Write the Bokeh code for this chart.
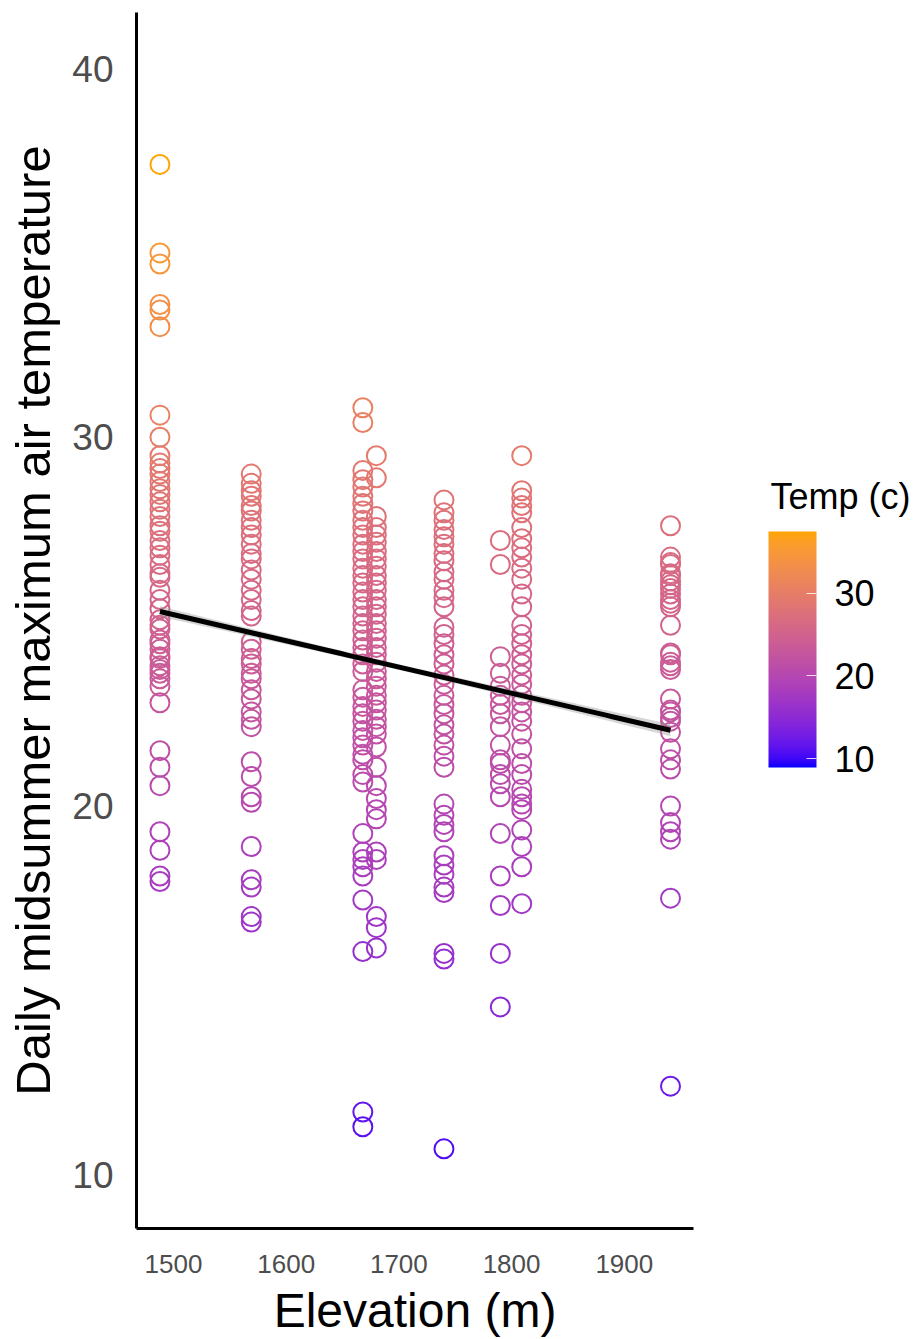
import numpy as np
from bokeh.plotting import figure
from bokeh.models import (ColumnDataSource, LinearColorMapper, ColorBar, FixedTicker, Range1d)
from bokeh.transform import transform
from bokeh.embed import file_html
from bokeh.resources import INLINE

# ---------------- data ----------------
site_elevation = [1488, 1569, 1668, 1680, 1740, 1790, 1809, 1941]

temps_1488 = [37.4, 35.0, 34.7, 33.6, 33.45, 33.0, 30.6, 30.0, 29.5, 29.3, 29.15, 29.0, 28.8, 28.6,
              28.45, 28.25, 28.05, 27.85, 27.6, 27.45, 27.2, 27.0, 26.8, 26.55, 26.3, 26.2, 25.85,
              25.6, 25.35, 25.05, 24.9, 24.8, 24.5, 24.4, 24.25, 24.05, 24.0, 23.8, 23.7, 23.6, 23.45,
              23.25, 22.8, 21.5, 21.05, 20.55, 19.3, 18.8, 18.1, 17.95]
temps_1569 = [29.0, 28.75, 28.55, 28.4, 28.15, 28.0, 27.75, 27.55, 27.35, 27.1, 26.85, 26.7, 26.4,
              26.15, 25.85, 25.6, 25.3, 25.15, 24.45, 24.25, 24.0, 23.85, 23.6, 23.45, 23.15, 22.9,
              22.55, 22.35, 22.15, 21.2, 20.8, 20.25, 20.1, 18.9, 18.0, 17.8, 17.0, 16.85]
temps_1668 = [30.8, 30.4, 29.1, 28.85, 28.65, 28.4, 28.2, 28.0, 27.75, 27.55, 27.35, 27.1, 26.9,
              26.7, 26.45, 26.25, 26.05, 25.8, 25.6, 25.4, 25.15, 24.95, 24.75, 24.5, 24.3, 24.1,
              23.85, 23.65, 23.15, 22.95, 22.7, 22.5, 22.3, 22.05, 21.85, 21.65, 21.4, 21.25, 20.85,
              20.65, 19.25, 18.75, 18.55, 18.35, 18.1, 17.45, 16.05, 11.7, 11.3]
temps_1680 = [29.5, 28.9, 27.85, 27.55, 27.35, 27.15, 26.9, 26.7, 26.5, 26.25, 26.05, 25.85, 25.6,
              25.4, 25.2, 24.95, 24.75, 24.55, 24.3, 24.1, 23.9, 23.65, 23.45, 23.25, 23.0, 22.8,
              22.6, 22.35, 22.15, 21.95, 21.6, 21.05, 20.55, 20.2, 19.9, 19.65, 18.75, 18.55, 17.0,
              16.7, 16.15]
temps_1740 = [28.3, 27.95, 27.75, 27.5, 27.3, 27.1, 26.85, 26.65, 26.35, 26.15, 25.85, 25.65, 25.4,
              24.85, 24.65, 24.4, 24.1, 23.85, 23.55, 23.3, 23.0, 22.75, 22.5, 22.2, 21.95, 21.65,
              21.35, 21.05, 20.05, 19.75, 19.5, 19.3, 18.65, 18.4, 18.15, 17.8, 17.65, 16.0, 15.85,
              10.7]
temps_1790 = [27.2, 26.55, 24.05, 23.6, 23.25, 23.0, 22.75, 22.5, 22.15, 21.65, 21.25, 21.15, 20.85,
              20.6, 20.25, 19.25, 18.1, 17.3, 16.0, 14.55]
temps_1809 = [29.5, 28.55, 28.35, 28.15, 27.95, 27.55, 27.25, 27.0, 26.75, 26.45, 26.15, 25.75, 25.4,
              24.9, 24.65, 24.4, 24.1, 23.85, 23.55, 23.3, 23.0, 22.8, 22.55, 22.3, 21.95, 21.55,
              21.15, 20.85, 20.45, 20.25, 20.05, 19.9, 19.35, 18.9, 18.35, 17.35]
temps_1941 = [27.6, 26.75, 26.6, 26.55, 26.3, 26.25, 26.1, 26.0, 25.9, 25.75, 25.6, 25.5, 25.4, 24.9,
              24.15, 24.1, 23.9, 23.8, 23.7, 22.9, 22.6, 22.55, 22.4, 22.3, 22.0, 21.55, 21.25, 21.0,
              20.0, 19.55, 19.3, 19.1, 17.5, 12.4]

site_temps = [temps_1488, temps_1569, temps_1668, temps_1680, temps_1740,
              temps_1790, temps_1809, temps_1941]

x_ticks = [1500, 1600, 1700, 1800, 1900]
y_ticks = [10, 20, 30, 40]
legend_ticks = [10, 20, 30]
legend_title = "Temp (c)"
colour_low, colour_high = 8.95, 37.45
records_per_circle = 30   # overlapping daily records behind each visible circle

elev = np.concatenate([[e] * len(t) for e, t in zip(site_elevation, site_temps)]).astype(float)
temp = np.concatenate(site_temps).astype(float)

# --------------- Lab colour ramp (blue -> orange) ---------------
M = np.array([[0.4124564, 0.3575761, 0.1804375],
              [0.2126729, 0.7151522, 0.0721750],
              [0.0193339, 0.1191920, 0.9503041]])
WHITE = np.array([0.95047, 1.0, 1.08883])

def hex_to_lab(h):
    c = np.array([int(h[i:i + 2], 16) for i in (1, 3, 5)]) / 255.0
    lin = np.where(c <= 0.04045, c / 12.92, ((c + 0.055) / 1.055) ** 2.4)
    xyz = M @ lin / WHITE
    f = np.where(xyz > 0.008856, np.cbrt(xyz), 7.787 * xyz + 16 / 116)
    return np.array([116 * f[1] - 16, 500 * (f[0] - f[1]), 200 * (f[1] - f[2])])

def lab_to_hex(lab):
    fy = (lab[0] + 16) / 116
    fx = fy + lab[1] / 500
    fz = fy - lab[2] / 200
    f = np.array([fx, fy, fz])
    t = np.where(f ** 3 > 0.008856, f ** 3, (f - 16 / 116) / 7.787)
    lin = np.linalg.inv(M) @ (t * WHITE)
    lin = np.clip(lin, 0, 1)
    c = np.where(lin <= 0.0031308, 12.92 * lin, 1.055 * lin ** (1 / 2.4) - 0.055)
    c = np.clip(np.round(c * 255), 0, 255).astype(int)
    return "#%02x%02x%02x" % tuple(c)

lab_lo, lab_hi = hex_to_lab("#0000ff"), hex_to_lab("#ffa500")
palette = [lab_to_hex(lab_lo + (lab_hi - lab_lo) * k / 255) for k in range(256)]
mapper = LinearColorMapper(palette=palette, low=colour_low, high=colour_high)

# --------------- linear fit ---------------
slope, intercept = np.polyfit(elev, temp, 1)
xs = np.linspace(elev.min(), elev.max(), 80)
fit = intercept + slope * xs
resid = temp - (intercept + slope * elev)
n = len(temp) * records_per_circle
s = np.sqrt(np.sum(resid ** 2) / (len(temp) - 2))
se = s * np.sqrt(1 / n + (xs - elev.mean()) ** 2 /
                 (records_per_circle * np.sum((elev - elev.mean()) ** 2)))
band = ColumnDataSource(dict(x=xs, lo=fit - 1.96 * se, hi=fit + 1.96 * se, y=fit))

# --------------- figure ---------------
p = figure(width=921, height=1339, x_range=Range1d(1467.2, 1961.4), y_range=Range1d(8.54, 41.52),
           output_backend="svg", toolbar_location=None,
           min_border_left=136, min_border_right=228, min_border_top=12, min_border_bottom=109)
p.outline_line_color = None
p.grid.visible = False
p.background_fill_color = "white"

src = ColumnDataSource(dict(x=elev, y=temp))
p.scatter("x", "y", source=src, size=19, fill_color=None, line_width=2,
          line_color=transform("y", mapper))
p.varea(x="x", y1="lo", y2="hi", source=band, fill_color="#999999", fill_alpha=0.4)
p.line("x", "y", source=band, line_color="black", line_width=5)

FONT = "Liberation Sans"
for ax in (p.xaxis[0], p.yaxis[0]):
    ax.axis_line_width = 3
    ax.axis_line_color = "black"
    ax.major_tick_line_color = None
    ax.minor_tick_line_color = None
    ax.major_label_text_color = "#4d4d4d"
    ax.major_label_text_font = FONT
    ax.axis_label_text_font = FONT
    ax.axis_label_text_font_style = "normal"
    ax.axis_label_text_color = "black"

p.xaxis.ticker = FixedTicker(ticks=x_ticks)
p.yaxis.ticker = FixedTicker(ticks=y_ticks)
p.xaxis.axis_label = "Elevation (m)"
p.yaxis.axis_label = "Daily midsummer maximum air temperature"
p.xaxis.axis_label_text_font_size = "48px"
p.yaxis.axis_label_text_font_size = "49px"
p.xaxis.major_label_text_font_size = "26px"
p.yaxis.major_label_text_font_size = "37px"
p.xaxis.major_label_standoff = 20
p.yaxis.major_label_standoff = 17
p.xaxis.axis_label_standoff = 8
p.yaxis.axis_label_standoff = 9

cb = ColorBar(color_mapper=mapper, ticker=FixedTicker(ticks=legend_ticks),
              location=(632, 461), width=48, height=236, padding=0,
              major_label_text_font=FONT, major_label_text_font_size="36px",
              major_label_text_color="black", label_standoff=18,
              major_tick_line_color="white", major_tick_line_alpha=0.8,
              major_tick_in=10, major_tick_out=0, bar_line_color=None,
              border_line_color=None, background_fill_color=None)
p.add_layout(cb, "center")

# legend title: drawn as the (horizontal) title of an invisible horizontal colour bar
title_bar = ColorBar(color_mapper=mapper, ticker=FixedTicker(ticks=[]), orientation="horizontal",
                     location=(634, 711), width=48, height=1, padding=0, scale_alpha=0,
                     title=legend_title, title_text_font=FONT, title_text_font_size="36px",
                     title_text_font_style="normal", title_text_color="black", title_standoff=0,
                     major_label_text_alpha=0, major_tick_line_color=None,
                     minor_tick_line_color=None, bar_line_color=None,
                     border_line_color=None, background_fill_color=None)
p.add_layout(title_bar, "center")

open("out.html", "w").write(file_html(p, INLINE))
